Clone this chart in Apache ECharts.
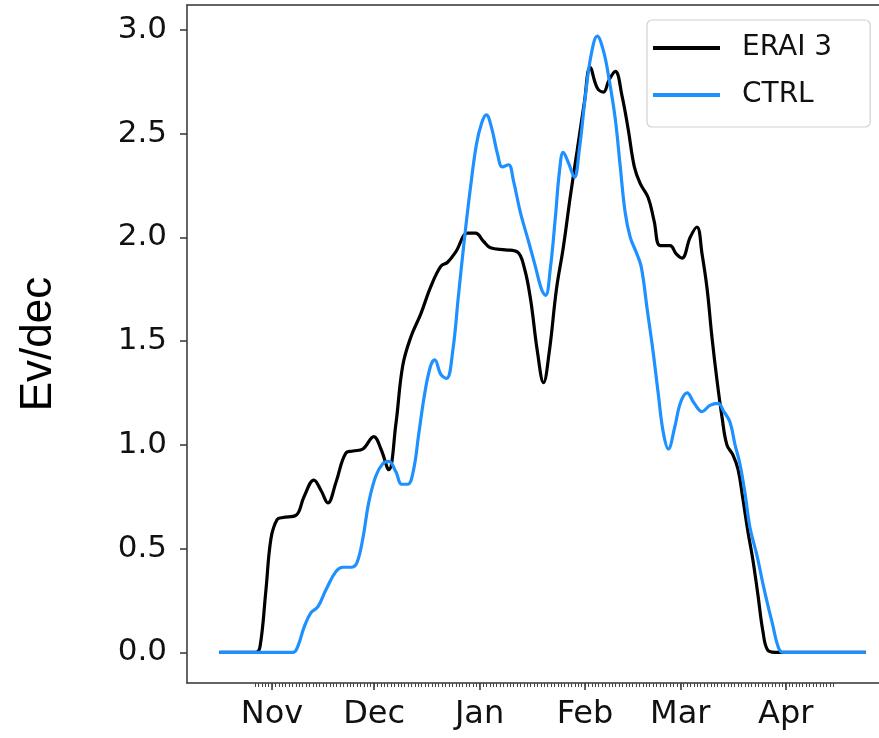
<!DOCTYPE html>
<html>
<head>
<meta charset="utf-8">
<script src="https://cdn.jsdelivr.net/npm/echarts@6/dist/echarts.min.js"></script>
<style>
html,body{margin:0;padding:0;background:#fff;overflow:hidden;width:879px;height:738px;}
#chart{width:910px;height:738px;}
</style>
</head>
<body>
<div id="chart"></div>
<script>
// x values are days counted from 1 November
const monthLabels = ['Nov', 'Dec', 'Jan', 'Feb', 'Mar', 'Apr'];
const monthDays = [0, 30, 61, 92, 120, 151];
const yTicks = [0, 0.5, 1.0, 1.5, 2.0, 2.5, 3.0];

const eraiDays = [-15.5,-4.7,-3.5,-1.8,-0.3,1.5,3.2,7.0,9.4,12.3,14.4,16.4,18.8,21.7,23.8,26.7,29.9,32.0,34.3,36.4,38.4,40.8,43.7,46.6,49.6,51.6,54.0,57.5,59.8,62.2,64.2,68.6,72.1,74.2,76.0,78.0,79.8,81.5,83.6,85.6,87.7,89.7,91.8,93.5,95.6,97.4,99.1,100.9,102.9,104.7,106.5,108.2,110.6,112.3,114.1,117.0,118.8,120.5,122.9,124.9,126.4,127.9,129.3,130.8,132.3,133.7,135.5,137.0,138.4,139.9,141.3,142.8,144.3,145.7,147.8,174.5];
const eraiVals = [0,0,0.03,0.3,0.55,0.64,0.65,0.66,0.75,0.83,0.78,0.72,0.82,0.96,0.97,0.98,1.04,0.98,0.88,1.1,1.38,1.52,1.63,1.76,1.86,1.88,1.93,2.02,2.02,1.98,1.95,1.94,1.93,1.85,1.7,1.45,1.30,1.45,1.75,1.95,2.2,2.42,2.65,2.82,2.72,2.70,2.76,2.80,2.68,2.52,2.34,2.26,2.19,2.08,1.96,1.96,1.92,1.90,2.0,2.05,1.92,1.75,1.52,1.31,1.13,1.00,0.95,0.88,0.74,0.58,0.45,0.28,0.10,0.01,0,0];

const ctrlDays = [-15.5,6.2,7.6,9.4,11.4,13.5,15.8,18.8,20.8,23.2,24.9,26.7,28.4,30.5,32.6,34.3,36.4,38.1,39.9,41.6,43.1,44.9,46.6,47.8,49.6,51.3,53.1,54.8,56.6,58.4,60.1,61.6,63.0,64.5,66.3,67.7,69.5,71.0,73.0,75.4,77.4,79.2,80.4,81.8,83.3,84.5,85.6,87.1,88.9,90.3,92.1,93.8,95.6,97.4,99.1,100.9,102.3,103.8,105.3,107.0,108.5,110.3,112.0,113.5,115.0,116.5,118.3,120.0,122.0,124.1,126.4,128.7,131.1,132.8,134.6,136.1,137.5,139.0,140.5,142.5,144.3,145.7,147.2,148.7,150.1,174.5];
const ctrlVals = [0,0,0.03,0.12,0.19,0.22,0.3,0.39,0.41,0.41,0.43,0.55,0.72,0.85,0.91,0.92,0.87,0.81,0.81,0.88,1.05,1.25,1.38,1.41,1.34,1.32,1.45,1.72,2.0,2.25,2.45,2.55,2.59,2.53,2.40,2.34,2.35,2.27,2.12,1.98,1.86,1.75,1.72,1.85,2.1,2.32,2.41,2.36,2.29,2.42,2.68,2.88,2.97,2.90,2.76,2.57,2.35,2.12,2.0,1.93,1.86,1.65,1.45,1.25,1.06,0.98,1.08,1.2,1.25,1.20,1.16,1.19,1.20,1.16,1.11,1.0,0.91,0.77,0.6,0.47,0.33,0.23,0.13,0.03,0,0];

const minorDays = [];
for (let d = -5; d <= 165; d++) minorDays.push(d);

function pairs(xs, ys) { return xs.map((x, i) => [x, ys[i]]); }

const chart = echarts.init(document.getElementById('chart'));
const tickFont = { fontFamily: 'DejaVu Sans', color: '#111' };
const frameLine = { show: true, onZero: false, lineStyle: { color: '#333', width: 1.5 } };
chart.setOption({
  animation: false,
  backgroundColor: '#fff',
  grid: { left: 187, right: 12, top: 5, bottom: 55, show: false },
  legend: {
    left: 647, top: 20, orient: 'vertical',
    padding: [13, 38, 17, 6],
    itemWidth: 67, itemHeight: 4, itemGap: 17, icon: 'rect',
    backgroundColor: 'rgba(255,255,255,0.85)', borderColor: '#d0d0d0', borderWidth: 1.2, borderRadius: 5,
    textStyle: { fontFamily: 'DejaVu Sans', fontSize: 28, color: '#111', lineHeight: 30, padding: [0, 0, 0, 17] },
    data: ['ERAI 3', 'CTRL']
  },
  xAxis: [{
    type: 'value', min: -25, max: 184, position: 'bottom',
    axisLine: frameLine,
    splitLine: { show: false },
    axisTick: { show: true, length: 7, customValues: monthDays, lineStyle: { color: '#333', width: 1.5 } },
    axisLabel: { customValues: monthDays, margin: 16, fontSize: 32, ...tickFont,
      formatter: v => monthLabels[monthDays.indexOf(v)] }
  }, {
    type: 'value', min: -25, max: 184, position: 'bottom',
    axisLine: { show: false, onZero: false }, splitLine: { show: false },
    axisTick: { show: true, length: 4, customValues: minorDays, lineStyle: { color: '#444', width: 1 } },
    axisLabel: { show: false }
  }, {
    type: 'value', min: -25, max: 184, position: 'top',
    axisLine: frameLine, splitLine: { show: false },
    axisTick: { show: false }, axisLabel: { show: false }
  }],
  yAxis: {
    type: 'value', min: -0.148, max: 3.12, position: 'left',
    axisLine: frameLine, splitLine: { show: false },
    axisTick: { show: true, length: 7, customValues: yTicks, lineStyle: { color: '#333', width: 1.5 } },
    axisLabel: { customValues: yTicks, margin: 20, fontSize: 31, ...tickFont, formatter: v => v.toFixed(1) },
    name: 'Ev/dec', nameLocation: 'middle', nameGap: 126, nameRotate: 90,
    nameTextStyle: { fontFamily: 'Liberation Sans', fontSize: 44, color: '#000' }
  },
  series: [{
    name: 'ERAI 3', type: 'line', data: pairs(eraiDays, eraiVals), smooth: 0.4,
    showSymbol: false, color: '#000', lineStyle: { color: '#000', width: 3.2 }, z: 2
  }, {
    name: 'CTRL', type: 'line', data: pairs(ctrlDays, ctrlVals), smooth: 0.4,
    showSymbol: false, color: '#1e90ff', lineStyle: { color: '#1e90ff', width: 3.2 }, z: 3
  }]
});
</script>
</body>
</html>
